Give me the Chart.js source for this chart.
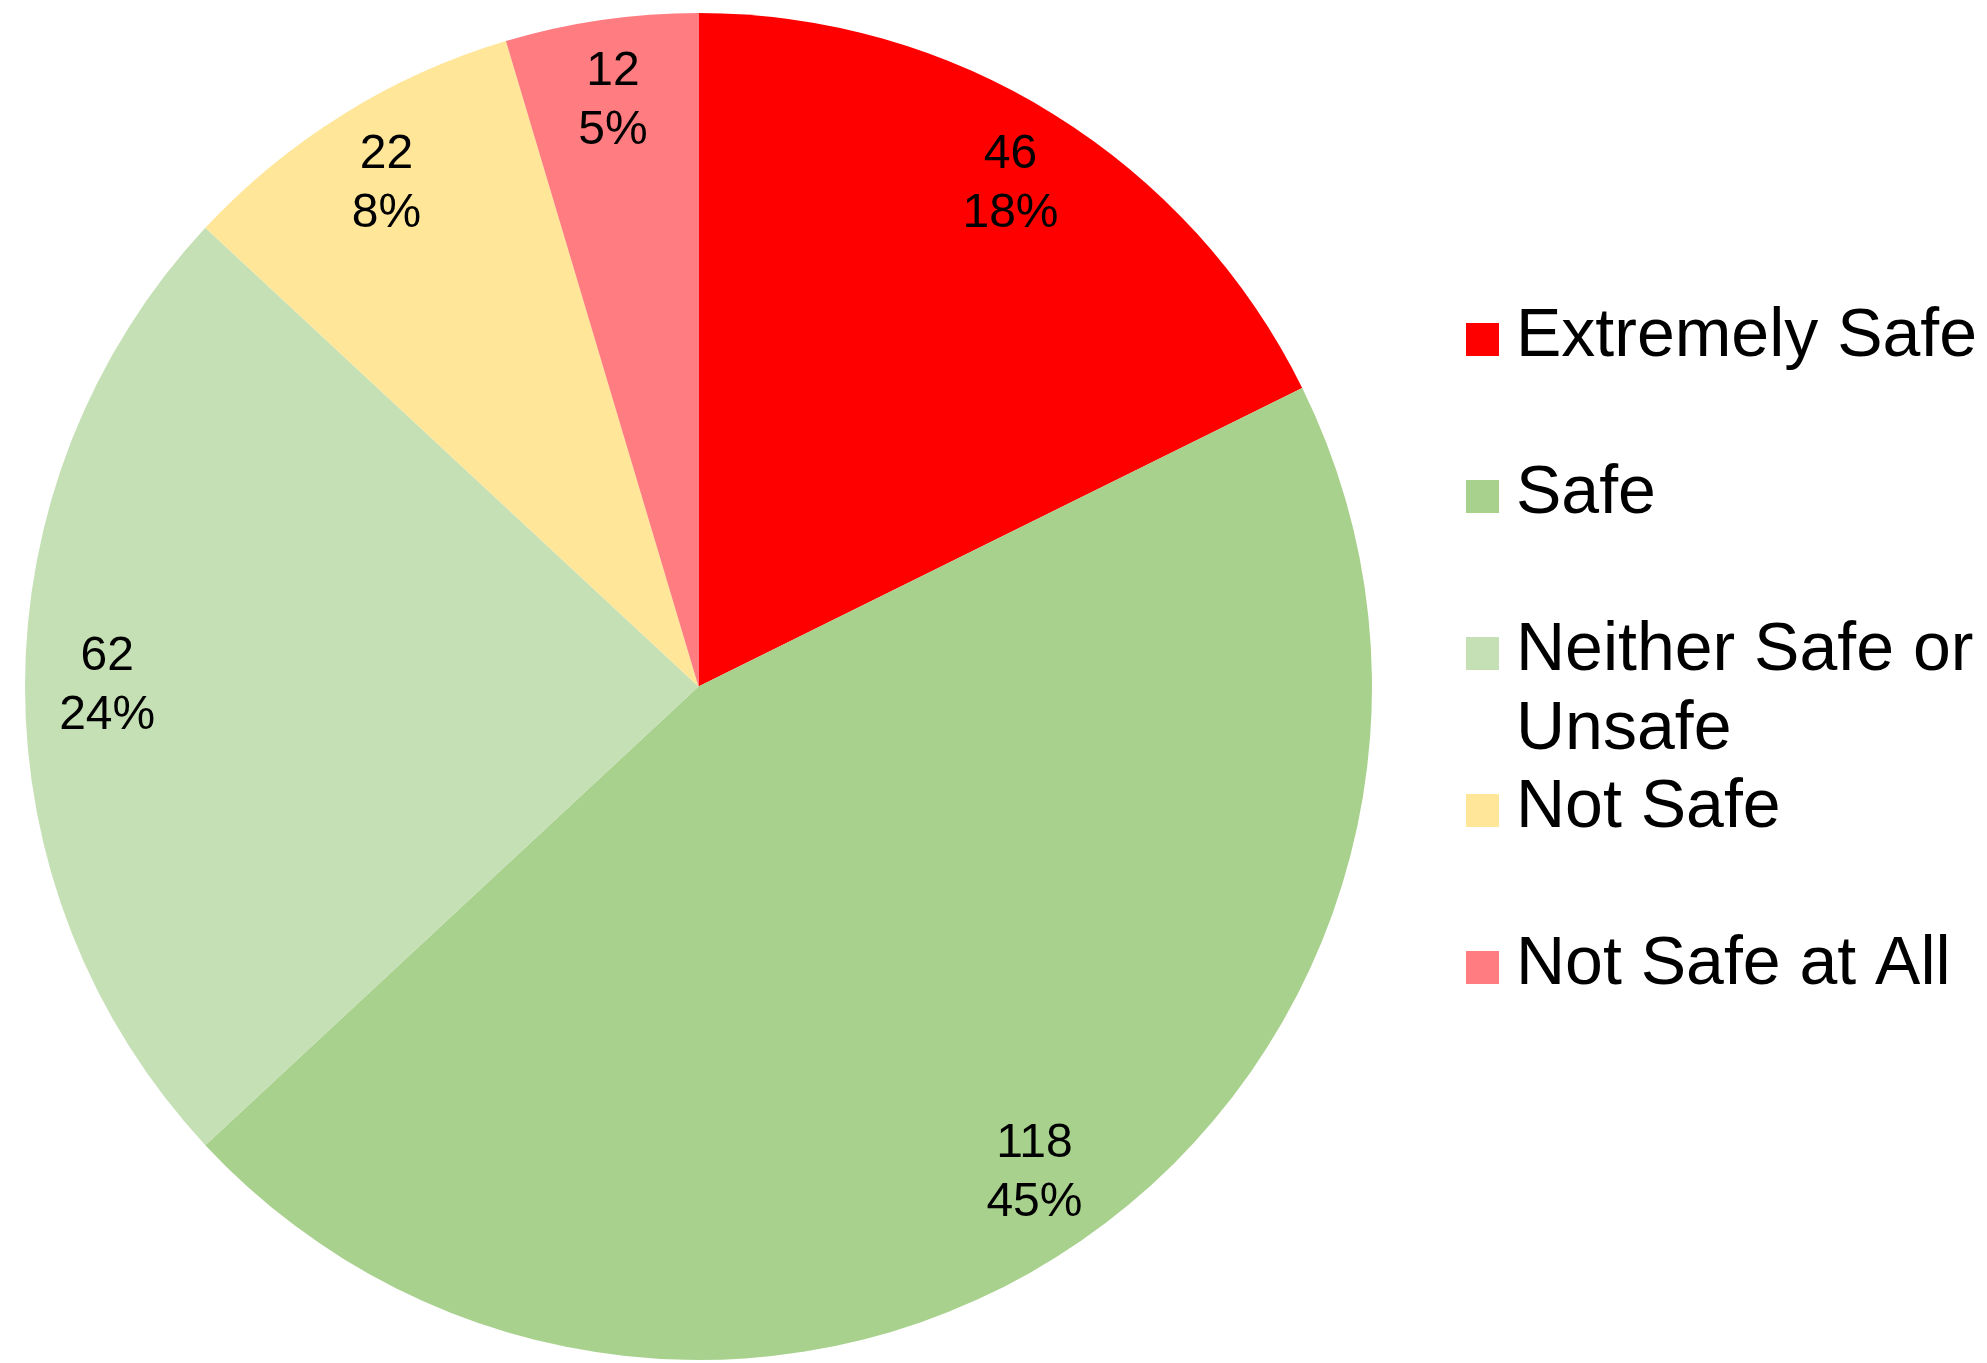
<!DOCTYPE html>
<html lang="en">
<head>
    <meta charset="UTF-8">
    <title>Safety rating</title>
    <script src="https://cdn.jsdelivr.net/npm/chart.js"></script>
    <style>
        html, body {
            margin: 0;
            padding: 0;
            background: #ffffff;
        }
        #wrap {
            width: 1987px;
            height: 1363px;
        }
    </style>
</head>
<body>
    <div id="wrap"><canvas id="safetyChart" width="1987" height="1363"></canvas></div>
    <script>
        const categories = ['Extremely Safe', 'Safe', 'Neither Safe or Unsafe', 'Not Safe', 'Not Safe at All'];
        const counts = [46, 118, 62, 22, 12];
        const sliceColors = ['#FF0000', '#A9D18E', '#C5E0B4', '#FFE699', '#FF7C80'];

        const total = counts.reduce((a, b) => a + b, 0);
        const percents = counts.map(v => Math.round(v / total * 100));

        const FONT = '"Liberation Sans", Arial, sans-serif';

        // value + percent labels inside each slice
        const sliceLabels = {
            id: 'sliceLabels',
            afterDatasetsDraw(chart) {
                const ctx = chart.ctx;
                const meta = chart.getDatasetMeta(0);
                ctx.save();
                ctx.font = '48px ' + FONT;
                ctx.fillStyle = '#000000';
                ctx.textAlign = 'center';
                ctx.textBaseline = 'middle';
                meta.data.forEach((arc, i) => {
                    const p = arc.getProps(['x', 'y', 'startAngle', 'endAngle', 'outerRadius'], true);
                    const mid = (p.startAngle + p.endAngle) / 2;
                    const r = p.outerRadius * 0.878;
                    const cx = p.x + Math.cos(mid) * r;
                    const cy = p.y + Math.sin(mid) * r;
                    ctx.fillText(String(counts[i]), cx, cy - 29.5);
                    ctx.fillText(percents[i] + '%', cx, cy + 29.5);
                });
                ctx.restore();
            }
        };

        // legend on the right, fixed row spacing, long labels wrap
        const sideLegend = {
            id: 'sideLegend',
            afterDraw(chart, args, opts) {
                const ctx = chart.ctx;
                ctx.save();
                ctx.font = opts.fontSize + 'px ' + FONT;
                ctx.textAlign = 'left';
                ctx.textBaseline = 'alphabetic';
                const textX = opts.x + opts.box + opts.gap;
                const maxW = chart.width - textX;
                chart.data.labels.forEach((label, i) => {
                    const base = opts.firstBaseline + i * opts.rowHeight;
                    ctx.fillStyle = chart.data.datasets[0].backgroundColor[i];
                    ctx.fillRect(opts.x, base - opts.box, opts.box, opts.box);

                    // simple word wrap
                    const words = label.split(' ');
                    const lines = [];
                    let line = '';
                    words.forEach(w => {
                        const test = line ? line + ' ' + w : w;
                        if (line && ctx.measureText(test).width > maxW) {
                            lines.push(line);
                            line = w;
                        } else {
                            line = test;
                        }
                    });
                    lines.push(line);

                    ctx.fillStyle = '#000000';
                    lines.forEach((l, k) => {
                        ctx.fillText(l, textX, base + k * opts.lineHeight);
                    });
                });
                ctx.restore();
            }
        };

        const ctx = document.getElementById('safetyChart').getContext('2d');
        const safetyChart = new Chart(ctx, {
            type: 'pie',
            data: {
                labels: categories,
                datasets: [{
                    data: counts,
                    backgroundColor: sliceColors,
                    borderWidth: 0
                }]
            },
            options: {
                responsive: false,
                animation: false,
                events: [],
                layout: {
                    padding: { left: 25, right: 615, top: 12, bottom: 2 }
                },
                plugins: {
                    legend: { display: false },
                    tooltip: { enabled: false },
                    sideLegend: {
                        x: 1466,
                        box: 33,
                        gap: 17,
                        fontSize: 68,
                        firstBaseline: 356,
                        rowHeight: 157,
                        lineHeight: 78.5
                    }
                }
            },
            plugins: [sliceLabels, sideLegend]
        });
    </script>
</body>
</html>
